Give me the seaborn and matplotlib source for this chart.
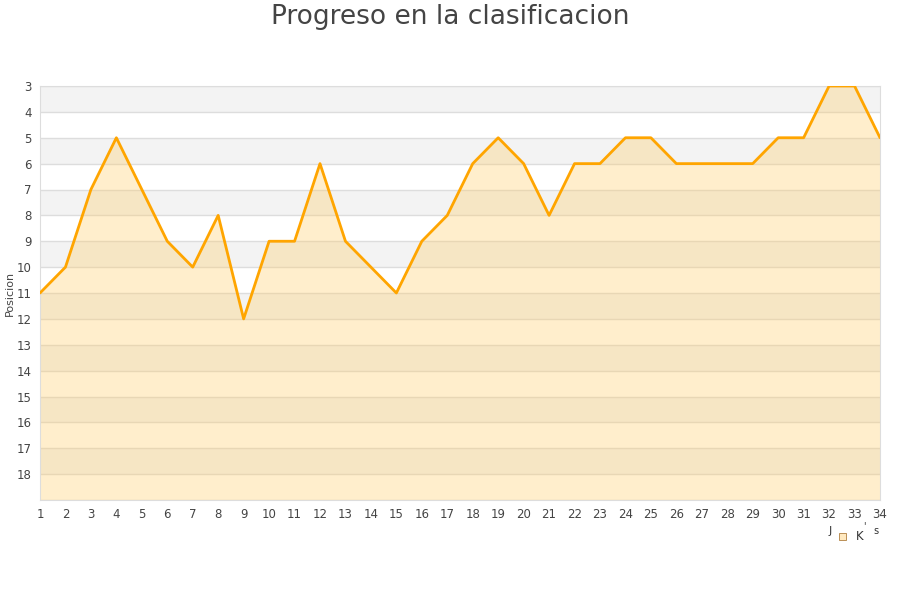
import matplotlib
matplotlib.use('Agg')
import matplotlib.pyplot as plt
import seaborn as sns
import pandas as pd

# datos de la clasificacion
jornadas = list(range(1, 35))
posiciones = [11, 10, 7, 5, 7, 9, 10, 8, 12, 9, 9, 6, 9, 10, 11, 9, 8, 6, 5, 6,
              8, 6, 6, 5, 5, 6, 6, 6, 6, 5, 5, 3, 3, 5]
y_ticks = list(range(3, 19))

df = pd.DataFrame({'Jornada': jornadas, 'Posicion': posiciones})

sns.set_style('white')
plt.rcParams['font.family'] = ['DejaVu Sans']

fig = plt.figure(figsize=(9, 6), dpi=100)
ax = fig.add_axes([40 / 900, 1 - 500 / 600, 840 / 900, 414 / 600])

# bandas alternas
for y in range(3, 19, 2):
    ax.axhspan(y, y + 1, color='#f3f3f3', zorder=0, lw=0)
for y in range(3, 20):
    ax.axhline(y, color='#dddddd', lw=1, zorder=1)

ax.fill_between(df['Jornada'], df['Posicion'], 19, color='#ffcc66', alpha=0.33, lw=0, zorder=2)
sns.lineplot(data=df, x='Jornada', y='Posicion', color='#ffa500', lw=2, ax=ax, zorder=3)

ax.set_xlim(1, 34)
ax.set_ylim(19, 3)
ax.set_xticks(jornadas)
ax.set_yticks(y_ticks)
ax.tick_params(axis='both', labelsize=8.5, colors='#444444', length=0, pad=6)
ax.set_xlabel('')
ax.set_ylabel('Posicion', fontsize=8, color='#444444', labelpad=2)
ax.yaxis.set_label_coords(-0.03, 0.5)
for s in ax.spines.values():
    s.set_color('#dddddd')

fig.text(0.5, 1 - 17 / 600, 'Progreso en la clasificacion', ha='center', va='center',
         fontsize=19, color='#444444')

# leyenda
fig.text(830 / 900, 1 - 531 / 600, 'J', ha='center', va='center', fontsize=8, color='#333333')
fig.patches.append(plt.Rectangle((839 / 900, 1 - 540 / 600), 7 / 900, 7 / 600,
                                 transform=fig.transFigure, fc='#ffe9c0', ec='#b08040', lw=0.6))
fig.text(860 / 900, 1 - 536 / 600, 'K', ha='center', va='center', fontsize=8.5, color='#333333')
fig.text(864 / 900, 1 - 526 / 600, "'", ha='center', va='center', fontsize=7, color='#333333')
fig.text(876 / 900, 1 - 531 / 600, 's', ha='center', va='center', fontsize=7, color='#333333')

fig.savefig('out.png', dpi=100)
